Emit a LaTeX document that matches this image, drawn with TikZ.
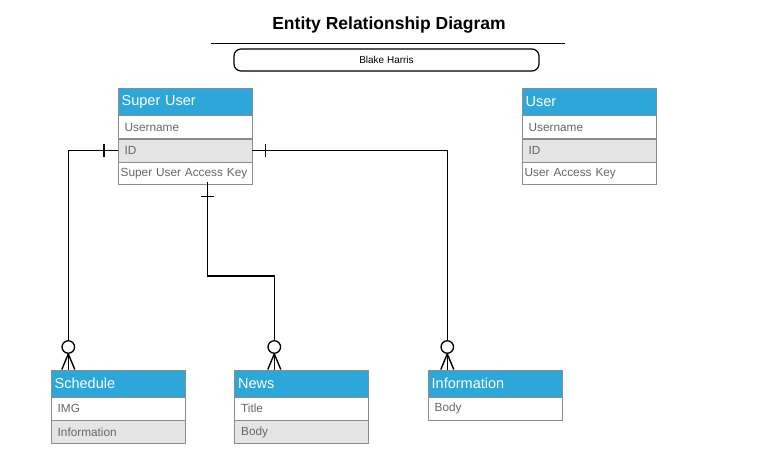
\documentclass[tikz,border=0pt]{standalone}
\usepackage{fontspec}
\setmainfont{Liberation Sans}
\usepackage{tikz}
\usetikzlibrary{positioning,calc}
\definecolor{erblue}{RGB}{45,167,218}
\definecolor{errow}{RGB}{229,229,229}
\definecolor{erline}{RGB}{140,140,140}
\definecolor{ertext}{RGB}{102,102,102}
\tikzset{
    tablehead/.style={
        draw=erline,
        fill=erblue,
        text=white,
        anchor=north west,
        minimum height=27pt,
        inner xsep=4pt,
        text width=126pt,
        align=left,
        font=\fontsize{14.5}{16}\selectfont
    },
    tablerow/.style={
        draw=erline,
        fill=white,
        text=ertext,
        minimum height=23pt,
        inner xsep=7pt,
        text width=120pt,
        align=left,
        font=\fontsize{11.8}{13}\selectfont
    },
    greyrow/.style={tablerow, fill=errow},
    widerow/.style={inner xsep=3pt, text width=128pt},
    link/.style={draw, line width=1.4pt},
    zeroring/.style={draw, circle, line width=1.3pt, minimum size=12.5pt, inner sep=0pt, fill=white}
}

\begin{document}
\begin{tikzpicture}[x=1pt, y=-1pt]
    \useasboundingbox (0,0) rectangle (758,465);

    % title block
    \node[font=\fontsize{17.5}{20}\selectfont\bfseries] (title) at (389,25) {Entity Relationship Diagram};
    \coordinate (rule-l) at (211,43.5);
    \coordinate (rule-r) at (565,43.5);
    \draw[line width=1.3pt] (rule-l) -- (rule-r);
    \node[draw, line width=1.2pt, rounded corners=7pt, minimum width=305pt, minimum height=22pt,
          font=\fontsize{10}{12}\selectfont] (author) at (386.5,60) {Blake Harris};

    % Super User
    \node[tablehead] (su) at (117.5,88) {Super User};
    \node[tablerow, below=0pt of su] (su-name) {Username};
    \node[greyrow, below=0pt of su-name] (su-id) {ID};
    \node[tablerow, widerow, minimum height=22pt, below=0pt of su-id] (su-key) {Super User Access Key};

    % User
    \node[tablehead] (us) at (521.5,88) {User};
    \node[tablerow, below=0pt of us] (us-name) {Username};
    \node[greyrow, below=0pt of us-name] (us-id) {ID};
    \node[tablerow, widerow, minimum height=22pt, below=0pt of us-id] (us-key) {User Access Key};

    % Schedule
    \node[tablehead] (sc) at (50.5,369.5) {Schedule};
    \node[tablerow, below=0pt of sc] (sc-img) {IMG};
    \node[greyrow, below=0pt of sc-img] (sc-info) {Information};

    % News
    \node[tablehead] (nw) at (234,369.5) {News};
    \node[tablerow, below=0pt of nw] (nw-title) {Title};
    \node[greyrow, below=0pt of nw-title] (nw-body) {Body};

    % Information
    \node[tablehead] (in) at (427.5,369.5) {Information};
    \node[tablerow, below=0pt of in] (in-body) {Body};

    % optional-many ends
    \node[zeroring] (c1) at (68.3,347) {};
    \node[zeroring] (c2) at (274.3,347) {};
    \node[zeroring] (c3) at (447.3,347) {};
    \coordinate (sc-top) at (68.3,369.5);
    \coordinate (nw-top) at (274.3,369.5);
    \coordinate (in-top) at (447.3,369.5);
    \coordinate (su-bot) at (207.5,182.5);

    % Super User -- Schedule
    \draw[link] (su-id.west) -| (c1.north);
    \draw[link] ($(su-id.west)+(-13.5,-6.5)$) -- ++(0,13);
    \draw[link] (c1.south) -- ($(sc-top)+(-6.5,0)$);
    \draw[link] (c1.south) -- (sc-top);
    \draw[link] (c1.south) -- ($(sc-top)+(6.5,0)$);

    % Super User -- News
    \draw[link] (su-bot) -- ++(0,93.5) -| (c2.north);
    \draw[link] ($(su-bot)+(-6.5,14)$) -- ++(13,0);
    \draw[link] (c2.south) -- ($(nw-top)+(-6.5,0)$);
    \draw[link] (c2.south) -- (nw-top);
    \draw[link] (c2.south) -- ($(nw-top)+(6.5,0)$);

    % Super User -- Information
    \draw[link] (su-id.east) -| (c3.north);
    \draw[link] ($(su-id.east)+(13.5,-6.5)$) -- ++(0,13);
    \draw[link] (c3.south) -- ($(in-top)+(-6.5,0)$);
    \draw[link] (c3.south) -- (in-top);
    \draw[link] (c3.south) -- ($(in-top)+(6.5,0)$);
\end{tikzpicture}
\end{document}
